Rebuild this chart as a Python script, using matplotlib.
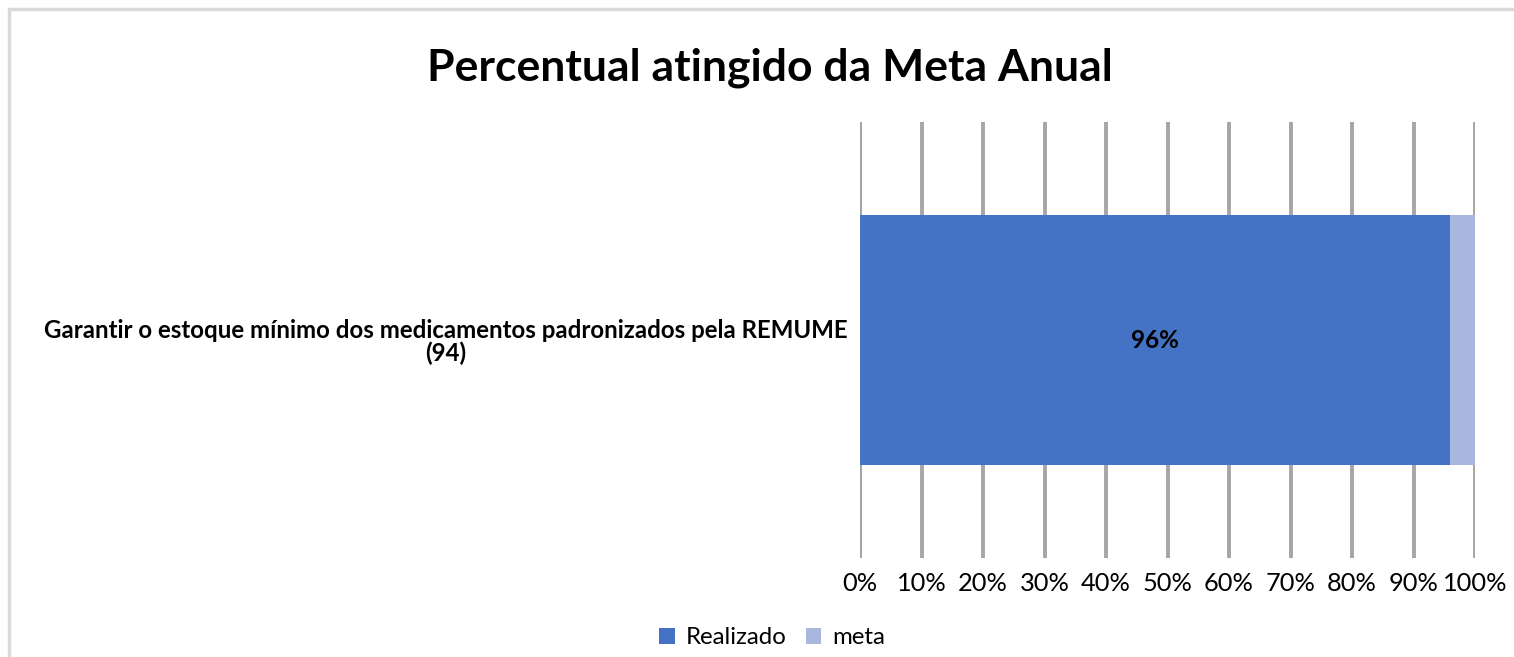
import matplotlib
matplotlib.use("Agg")
import matplotlib.pyplot as plt
from matplotlib.patches import Rectangle

categories = ["Garantir o estoque mínimo dos medicamentos padronizados pela REMUME\n(94)"]
realizado = [96]
meta = [4]
series_names = ["Realizado", "meta"]
ticks = [0, 10, 20, 30, 40, 50, 60, 70, 80, 90, 100]
tick_labels = [f"{t}%" for t in ticks]
title = "Percentual atingido da Meta Anual"

plt.rcParams['font.family'] = ['Lato', 'DejaVu Sans']

W, H = 1514, 657
fig = plt.figure(figsize=(W / 100, H / 100), dpi=100)
fig.patches.append(Rectangle((9 / W, -0.1), 1.2, (H - 9) / H + 0.1, transform=fig.transFigure,
                             fill=False, edgecolor="#d9d9d9", linewidth=2.5))

ax = fig.add_axes([860 / W, 1 - 558 / H, (1475 - 860) / W, (558 - 122) / H])
y = list(range(len(categories)))
c1, c2 = "#4472c4", "#a9b6de"
b1 = ax.barh(y, realizado, height=0.573, color=c1, label=series_names[0], zorder=3)
b2 = ax.barh(y, meta, left=realizado, height=0.573, color=c2, label=series_names[1], zorder=3)
for yi, v in zip(y, realizado):
    ax.text(v / 2, yi, f"{v}%", ha="center", va="center", fontsize=17.5,
            fontweight="bold", color="black", zorder=4)

ax.set_xlim(0, 100)
ax.set_ylim(-0.5, 0.5)
ax.set_xticks(ticks)
ax.set_xticklabels(tick_labels, fontsize=18.3)
ax.set_yticks(y)
ax.set_yticklabels(categories, fontsize=17.3, fontweight="bold", ha="center",
                   multialignment="center", linespacing=1.0)
ax.tick_params(axis="y", length=0, pad=0)
ax.tick_params(axis="x", length=0, pad=10)
for lbl in ax.get_yticklabels():
    lbl.set_x(-(860 - 446) / (1475 - 860))
ax.grid(axis="x", color="#a6a6a6", linewidth=2.8, zorder=0)
for s in ax.spines.values():
    s.set_visible(False)
ax.axvline(0, color="#8c8c8c", linewidth=2.8, zorder=1)

fig.text(770 / W, 1 - 68 / H, title, fontsize=32, fontweight="bold",
         ha="center", va="center")
fig.legend(handles=[b1, b2], labels=series_names, loc="center",
           bbox_to_anchor=(772 / W, 1 - 638 / H), ncol=2, frameon=False,
           fontsize=17.3, handlelength=0.65, handleheight=0.65, handletextpad=0.45,
           columnspacing=0.8)

fig.savefig("out.png", dpi=100)
